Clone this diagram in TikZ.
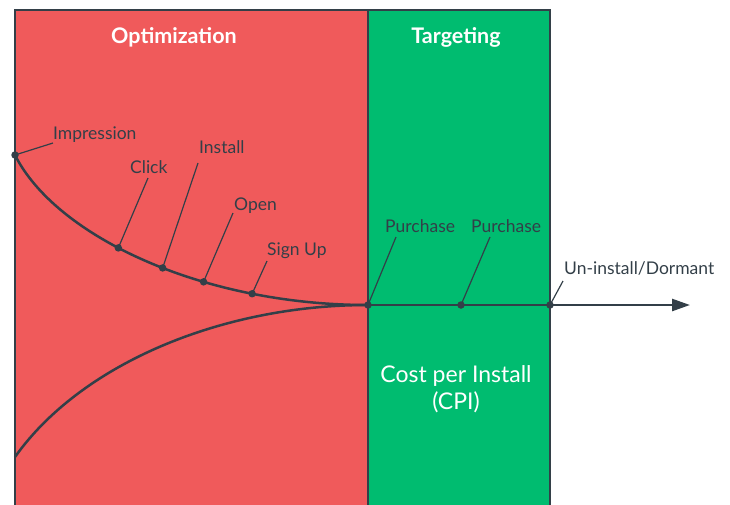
\documentclass[tikz,border=0pt]{standalone}
\usepackage{fontspec}
\setmainfont{Lato}
\usepackage{tikz}
\usetikzlibrary{arrows.meta,positioning}
\definecolor{Slate}{HTML}{333F48}
\definecolor{OptRed}{HTML}{F05A5B}
\definecolor{TgtGreen}{HTML}{00BC70}

\begin{document}
\begin{tikzpicture}[
            x=1pt, y=-1pt,
            panel/.style={draw=Slate,line width=2.5pt},
            dot/.style={circle,fill=Slate,inner sep=0pt,minimum size=7.5pt},
            lbl/.style={text=Slate,font=\fontsize{17.5}{20}\selectfont,inner sep=0pt,anchor=base west},
            title/.style={text=white,font=\bfseries\fontsize{21.5}{24}\selectfont,anchor=base},
            curve/.style={draw=Slate,line width=2.5pt},
            leader/.style={draw=Slate,line width=1.2pt},
            >={Triangle[length=18pt,width=12pt]}
        ]
        \useasboundingbox (0,0) rectangle (730,504);
        \clip (0,0) rectangle (730,504);

        % Draw panels %
        \filldraw[panel,fill=OptRed] (15,10) rectangle (368,520);
        \filldraw[panel,fill=TgtGreen] (368,10) rectangle (550,520);
        \node[title] (opt) at (174,43) {Optimization};
        \node[title] (tgt) at (456,43) {Targeting};

        % Draw curves %
        \coordinate (start) at (15,155);
        \coordinate (meet) at (368,305);
        \coordinate (low) at (15,457);
        \coordinate (tip) at (690,305);
        \draw[curve] (low) .. controls (80,365) and (220,305) .. (meet);
        \draw[curve,->] (meet) -- (tip);
        \draw[curve] (start) .. controls (55,235) and (200,305) .. (meet)
            node[dot,pos=0.43] (click) {}
            node[dot,pos=0.55] (install) {}
            node[dot,pos=0.65] (open) {}
            node[dot,pos=0.76] (signup) {};
        \node[dot] (impression) at (start) {};
        \node[dot] (buy1) at (meet) {};
        \node[dot] (buy2) at (461,305) {};
        \node[dot] (dormant) at (550,305) {};

        % Draw labels %
        \node[lbl] (impressionLbl) at (53,139.5) {Impression};
        \node[lbl] (clickLbl) at (130,173) {Click};
        \node[lbl] (installLbl) at (199,153) {Install};
        \node[lbl] (openLbl) at (234,210) {Open};
        \node[lbl] (signupLbl) at (267,255) {Sign Up};
        \node[lbl] (buy1Lbl) at (385,232.5) {Purchase};
        \node[lbl] (buy2Lbl) at (471,232.5) {Purchase};
        \node[lbl] (dormantLbl) at (564,274) {Un-install/Dormant};

        % Draw leaders %
        \coordinate (impressionTop) at (53,143);
        \coordinate (clickTop) at (148,178);
        \coordinate (installTop) at (198,163);
        \coordinate (openTop) at (233,213);
        \coordinate (signupTop) at (267,261);
        \coordinate (buy1Top) at (396,237);
        \coordinate (buy2Top) at (490,237);
        \coordinate (dormantTop) at (563,281);
        \foreach \n in {impression,click,install,open,signup,buy1,buy2,dormant}
            \draw[leader] (\n.center) -- (\n Top);

        % Label %
        \node[text=white,align=center,anchor=base,font=\fontsize{23}{27}\selectfont] (cpi) at (456,409) {Cost per Install\\(CPI)};
\end{tikzpicture}
\end{document}
